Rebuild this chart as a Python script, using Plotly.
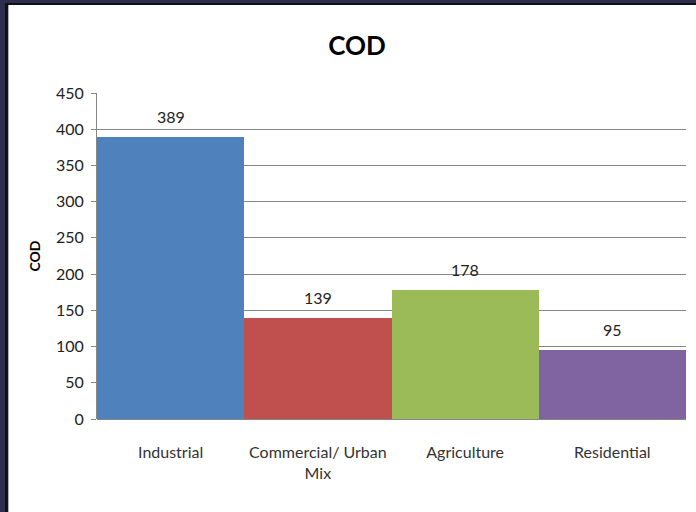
import plotly.graph_objects as go

categories = ["Industrial", "Commercial/ Urban<br>Mix", "Agriculture", "Residential"]
cod_values = [389, 139, 178, 95]
bar_colors = ["#4f81bd", "#c0504d", "#9bbb59", "#8064a2"]

W, H = 696, 512
ML, MR, MT, MB = 97, 10, 93, 93
PW = W - ML - MR
PH = H - MT - MB


def px_x(p):
    return (p - ML) / PW


def px_y(p):
    return (H - MB - p) / PH


fig = go.Figure(
    go.Bar(
        x=categories,
        y=cod_values,
        marker=dict(color=bar_colors, line=dict(width=0)),
        cliponaxis=False,
    )
)

# value labels sitting a little above each bar
for cat, v in zip(categories, cod_values):
    fig.add_annotation(x=cat, y=v, text=str(v), showarrow=False,
                       yanchor="middle", yshift=21,
                       font=dict(size=16, color="#222222", family="Lato, sans-serif"))

# dark frame along the left and top edges
frame = [
    (0, 0, 6, H, "#2f2d4f"),
    (0, 0, W, 3, "#2f2d4f"),
    (5, 3, 8, H, "#111111"),
    (5, 3, W, 5, "#111111"),
    (8, 5, 9, H, "#b0b0b0"),
]
shapes = []
for x0, y0, x1, y1, c in frame:
    shapes.append(dict(type="rect", xref="paper", yref="paper",
                       x0=px_x(x0), x1=px_x(x1), y0=px_y(y1), y1=px_y(y0),
                       fillcolor=c, line=dict(width=0), layer="above"))

fig.update_layout(
    width=W, height=H,
    margin=dict(l=ML, r=MR, t=MT, b=MB),
    paper_bgcolor="white", plot_bgcolor="white",
    bargap=0,
    showlegend=False,
    shapes=shapes,
    font=dict(family="Lato, sans-serif", color="#222222"),
    title=dict(text="<b>COD</b>", xref="container", x=357 / W, xanchor="center",
               yref="container", y=1 - 46 / H, yanchor="middle",
               font=dict(size=26, color="#000000", family="Lato, sans-serif")),
    xaxis=dict(showgrid=False, showline=False, ticks="",
               ticklabelstandoff=22,
               tickfont=dict(size=16, color="#333333")),
    yaxis=dict(range=[0, 450], dtick=50, showgrid=True, gridcolor="#868686",
               gridwidth=1, showline=True, linecolor="#868686",
               ticks="outside", ticklen=5, tickcolor="#868686",
               ticklabelstandoff=4,
               tickfont=dict(size=16, color="#222222"),
               zeroline=True, zerolinecolor="#868686", zerolinewidth=1,
               title=dict(text="<b>COD</b>", standoff=12,
                          font=dict(size=14, color="#000000"))),
)

fig.write_html("out.html")
